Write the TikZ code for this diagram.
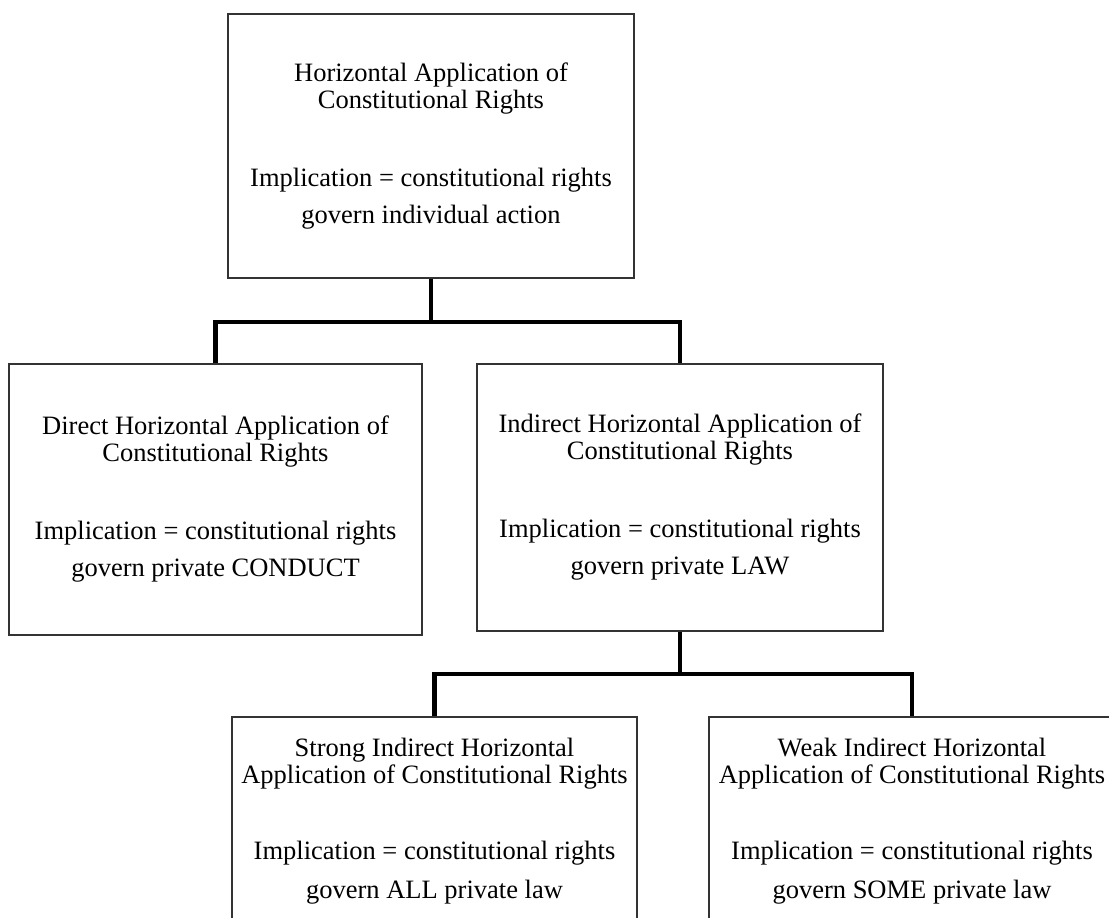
\documentclass[tikz,border=0pt]{standalone}
\usepackage{fontspec}
\setmainfont{Liberation Serif}
\usetikzlibrary{positioning}

\begin{document}
\begin{tikzpicture}[x=0.5pt,y=-0.5pt]
  \tikzstyle{box}=[draw=black!80,line width=0.6pt,rectangle,align=center,
    font=\fontsize{13.25}{13.5}\selectfont]
  \tikzstyle{link}=[line width=2.4pt]
  \useasboundingbox (0,0) rectangle (1109,917);

  \node[box,minimum width=203pt,minimum height=132pt] (H-top) at (431,146)
    {Horizontal Application of\\Constitutional Rights\\[25.5pt]
     Implication = constitutional rights\\[5pt]govern individual action};
  \node[box,minimum width=206.5pt,minimum height=135.5pt] (H-direct) at (215.5,499.5)
    {Direct Horizontal Application of\\Constitutional Rights\\[25.5pt]
     Implication = constitutional rights\\[5pt]govern private CONDUCT};
  \node[box,minimum width=203pt,minimum height=133.5pt] (H-indirect) at (680,497.5)
    {Indirect Horizontal Application of\\Constitutional Rights\\[25.5pt]
     Implication = constitutional rights\\[5pt]govern private LAW};
  \node[box,minimum width=202.5pt,minimum height=104pt] (H-strong) at (434.5,821)
    {Strong Indirect Horizontal\\Application of Constitutional Rights\\[24.5pt]
     Implication = constitutional rights\\[6pt]govern ALL private law};
  \node[box,minimum width=203pt,minimum height=104pt] (H-weak) at (912,821)
    {Weak Indirect Horizontal\\Application of Constitutional Rights\\[24.5pt]
     Implication = constitutional rights\\[6pt]govern SOME private law};

  % junctions of the tree
  \coordinate (J-1) at (431,322);
  \coordinate (J-2) at (680,674);
  \draw[link] (H-top.south) -- (J-1);
  \draw[link] (H-direct.north) |- (J-1) -| (H-indirect.north);
  \draw[link] (H-indirect.south) -- (J-2);
  \draw[link] (H-strong.north) |- (J-2) -| (H-weak.north);
\end{tikzpicture}
\end{document}
